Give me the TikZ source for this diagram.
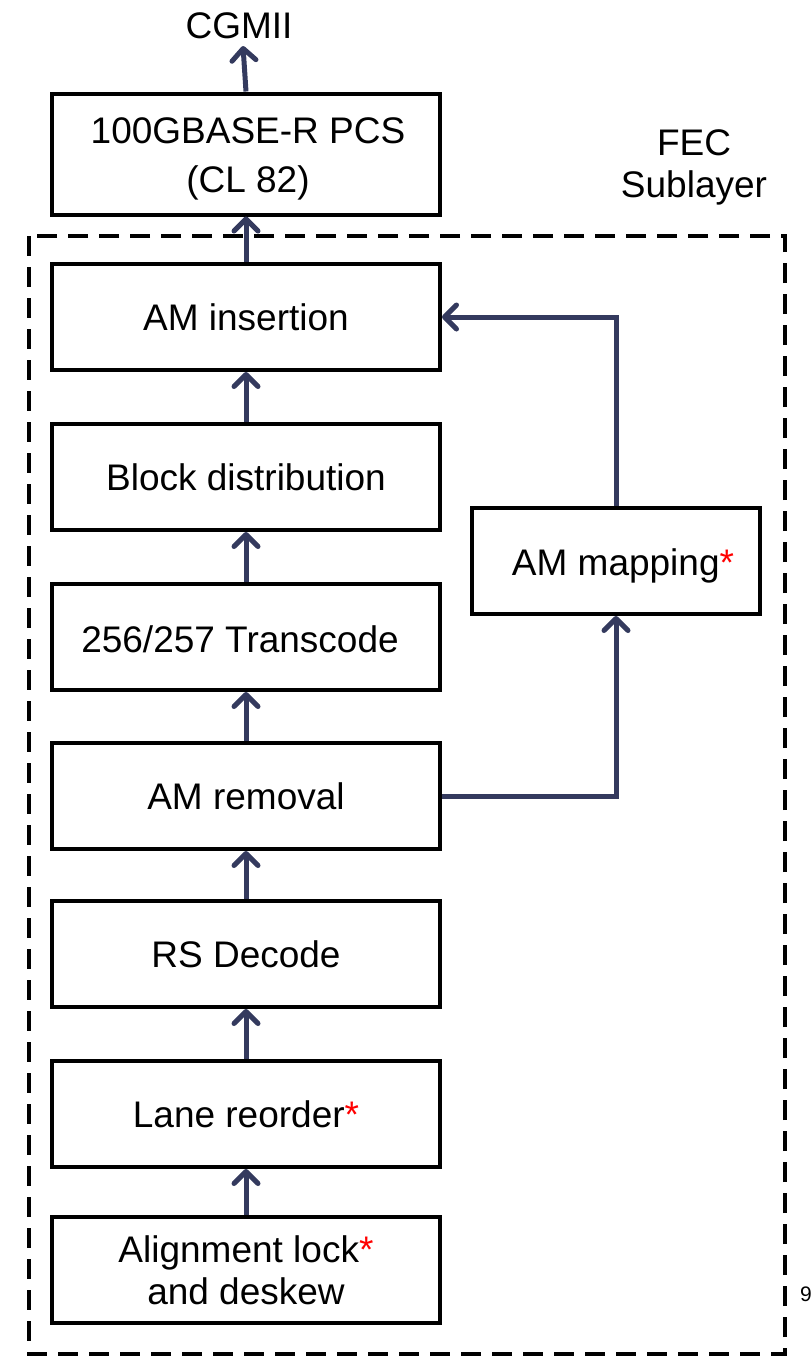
\documentclass[tikz,border=0pt]{standalone}
\usepackage{fontspec}
\setmainfont{Liberation Sans}
\usetikzlibrary{arrows.meta}
\definecolor{navy}{HTML}{343A5E}
\begin{document}
\begin{tikzpicture}[x=0.5pt,y=-0.5pt,
  blk/.style={draw=black,line width=2pt,minimum width=194pt,minimum height=53pt,inner sep=0pt,align=center,font=\fontsize{18.5}{21}\selectfont},
  side/.style={draw=black,line width=2pt,minimum width=144pt,minimum height=53pt,inner sep=0pt,align=center,font=\fontsize{18.5}{21}\selectfont},
  conn/.style={draw=navy,line width=2.5pt,-{Straight Barb[length=6pt,width=12pt,line width=2.5pt,round]}},
  txt/.style={font=\fontsize{18.5}{21}\selectfont,align=center,inner sep=0pt}]
\useasboundingbox (0,0) rectangle (812,1357);
\draw[line width=2pt,dash pattern=on 10pt off 5.5pt] (29,236) rectangle (785,1354);
\node[blk,minimum height=60.5pt] (pcs) at (246,154) {};
\node[txt] (pcst) at (248,159) {100GBASE-R PCS\\[3.5pt](CL 82)};
\node[blk] (ins) at (246,317) {AM insertion};
\node[blk] (bd) at (246,477) {Block distribution};
\node[blk] (tc) at (246,637) {};
\node[txt] (tct) at (240,639) {256/257 Transcode};
\node[blk] (rem) at (246,796) {AM removal};
\node[blk] (rs) at (246,954) {RS Decode};
\node[blk] (lr) at (246,1114) {Lane reorder\textcolor{red}{*}};
\node[blk] (al) at (246,1270) {Alignment lock\textcolor{red}{*}\\and deskew};
\node[side] (map) at (616,561) {};
\node[txt] (mapt) at (623,566) {AM mapping\textcolor{red}{*}};
\node[txt] (cg) at (239,26) {CGMII};
\node[txt] (fec) at (694,167) {FEC\\Sublayer};
\node[txt,font=\fontsize{10.5}{12}\selectfont] (pg) at (806,1294) {9};
\coordinate (cgb) at (243,46);
\draw[conn] (pcs.north) -- (cgb);
\draw[conn] (ins.north) -- (pcs.south);
\draw[conn] (bd.north) -- (ins.south);
\draw[conn] (tc.north) -- (bd.south);
\draw[conn] (rem.north) -- (tc.south);
\draw[conn] (rs.north) -- (rem.south);
\draw[conn] (lr.north) -- (rs.south);
\draw[conn] (al.north) -- (lr.south);
\draw[conn] (rem.east) -| (map.south);
\draw[conn] (map.north) |- (ins.east);
\end{tikzpicture}
\end{document}
